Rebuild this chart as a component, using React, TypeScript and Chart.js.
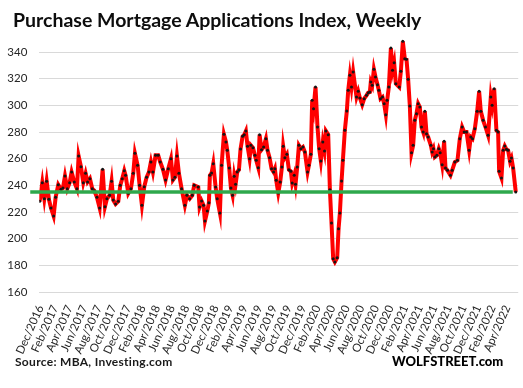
import React, { useEffect, useRef } from "react";
import { Chart, registerables } from "chart.js";

Chart.register(...registerables);

// Time in months since Dec 2016, weekly index values
const months = [
  -0.11, 0.25, 0.53, 0.85, 1.16, 1.44, 1.8, 2.08, 2.44, 2.81, 3.08, 3.36, 3.68, 4.0, 4.27, 4.64, 5.0, 5.23, 5.55, 5.87,
  6.19, 6.46, 6.78, 7.1, 7.38, 7.74, 8.11, 8.52, 8.84, 9.11, 9.48, 9.75, 9.98, 10.3, 10.67, 10.94, 11.21, 11.49, 11.67,
  12.04, 12.4, 12.72, 12.95, 13.32, 13.59, 13.91, 14.23, 14.55, 14.87, 15.14, 15.42, 15.78, 16.14, 16.42, 16.79, 17.15,
  17.52, 17.89, 18.16, 18.43, 18.71, 18.98, 19.35, 19.8, 20.08, 20.45, 20.81, 21.08,
  21.63, 21.81, 22.09, 22.36, 22.55, 22.87, 23.09, 23.23, 23.46, 23.69, 24.01, 24.23, 24.6, 24.83, 25.15, 25.43, 25.61,
  25.88, 26.11, 26.34, 26.56, 26.75, 26.98, 27.21, 27.43, 27.71, 27.94, 28.16, 28.39, 28.67, 28.85, 29.13, 29.4, 29.58,
  29.86, 30.04, 30.31, 30.59, 30.91, 31.13, 31.41, 31.68, 31.96, 32.14, 32.32, 32.6, 32.87, 33.1, 33.28, 33.51, 33.78,
  34.06, 34.33, 34.51, 34.79, 34.97, 35.2, 35.43, 35.7, 35.98, 36.25, 36.62, 36.8, 37.07, 37.25, 37.44, 37.71, 37.98,
  38.21, 38.44, 38.71, 38.94, 39.13, 39.45, 39.68, 39.9, 40.13, 40.36, 40.68, 40.87, 41.05, 41.28, 41.46, 41.73, 42.0,
  42.19, 42.42, 42.64, 42.87,
  43.33, 43.56, 43.79, 44.11, 44.38, 44.7, 44.93, 45.16, 45.29, 45.48, 45.71, 45.93, 46.21, 46.39, 46.62, 46.89, 47.12,
  47.35, 47.53, 47.76, 48.04, 48.27, 48.49, 48.72, 49.18, 49.41, 49.68, 49.95, 50.18, 50.41, 50.64, 50.87, 51.09, 51.32,
  51.55, 51.78, 52.01, 52.24, 52.47, 52.7, 52.93, 53.15, 53.52, 53.7, 53.88, 54.07, 54.34, 54.61, 54.8, 55.07, 55.34,
  55.53, 55.8, 56.21, 56.44, 56.81, 57.17, 57.49, 57.81, 58.09, 58.41, 58.77, 59.0, 59.23, 59.55, 59.87, 60.14, 60.37,
  60.69, 61.01, 61.37, 61.74, 61.92, 62.2, 62.51, 62.74, 62.88, 63.2, 63.43, 63.65, 63.88, 64.11, 64.38, 64.57, 64.8,
  65.16,
];

const values = [
  228, 242, 230, 243, 229.5, 223, 217, 231, 240.5, 237, 238, 247, 237.5, 242, 250, 242.5, 237.5, 262, 254, 242,
  249, 242.5, 245, 237.5, 236, 231, 223, 252, 224, 230, 232.5, 243, 229, 226, 228, 240, 245, 251, 247.5,
  234, 237.5, 249, 264, 255, 240, 225, 239, 246, 250, 257.5, 250, 262.5, 262.5, 257.5, 252, 244,
  252.5, 260, 244, 246, 262, 249, 237.5, 225, 232.5, 230, 232.5, 240,
  238.75, 223.75, 228.25, 225, 213.25, 220.75, 227, 247.5, 249.25, 256.25, 238.75, 230, 219.25, 255, 278.25, 272.5, 266.25,
  253, 238, 232.5, 246.75, 240.75, 250, 251.75, 267.25, 276.75, 278, 280.75, 269.25, 260, 270, 268.25, 262.5, 258.75,
  253.25, 278, 266.75, 268.75, 275, 266.25, 260.75, 252.5, 250, 252.5, 243.75, 234.25, 242.5, 253.75, 269.25, 260.75, 263.25,
  251.75, 250.5, 241.75, 247.5, 240.75, 253.75, 270, 267.5, 268.75, 265, 250, 255, 263.25, 303.75, 297.5, 313.75, 283.75,
  267.5, 258.25, 272.5, 265.75, 280.75, 278, 236.75, 211.75, 185, 182.5, 185.75, 207.5, 219.25, 243.25, 258.75, 281.25, 295.75,
  311.25, 322.5, 313.75, 325,
  306.25, 310.5, 305.5, 300.5, 305, 307.5, 309.5, 310, 317.5, 315, 327, 321.25, 315.5, 311.25, 305, 306.25, 301.25,
  293, 303.75, 313.75, 343, 326.25, 332, 316.25, 313.75, 325.5, 348, 335, 334.5, 319.5, 299.5, 264.5, 270, 288.75,
  293.75, 301.25, 298.75, 283.75, 280, 295.5, 278.75, 276.25, 270, 265, 267.5, 261.25, 262.5, 267.5, 264.5, 255.5, 273,
  253, 251.25, 247.5, 251.25, 257.5, 258.75, 275, 283.75, 280, 280, 266.25, 276.25, 275, 282.5, 295.5, 310.5, 295.5,
  288.75, 283.75, 277.5, 306.25, 300, 312.5, 281.25, 280, 250.5, 245.5, 266.25, 269.5, 267, 266.25, 258, 260.5, 253,
  235,
];

const tickLabels = [
  "Dec/2016", "Feb/2017", "Apr/2017", "Jun/2017", "Aug/2017", "Oct/2017", "Dec/2017", "Feb/2018", "Apr/2018",
  "Jun/2018", "Aug/2018", "Oct/2018", "Dec/2018", "Feb/2019", "Apr/2019", "Jun/2019", "Aug/2019", "Oct/2019",
  "Dec/2019", "Feb/2020", "Apr/2020", "Jun/2020", "Aug/2020", "Oct/2020", "Dec/2020", "Feb/2021", "Apr/2021",
  "Jun/2021", "Aug/2021", "Oct/2021", "Dec/2021", "Feb/2022", "Apr/2022",
];
// Tick positions in months since Dec 2016
const tickMonths = [0, 2, 4, 6, 8, 10, 12, 14, 16, 18, 20, 22, 24, 26, 28, 30, 32, 34, 36, 38, 40, 42, 44, 46, 48, 50, 52, 54, 56, 58, 60, 62, 64];

const yTicks = [160, 180, 200, 220, 240, 260, 280, 300, 320, 340];

const referenceLevel = 235;
const referenceSpan = [-1.4, 64.75];

export default function App() {
  const canvasRef = useRef<HTMLCanvasElement | null>(null);

  useEffect(() => {
    document.body.style.margin = "0";
    const canvas = canvasRef.current;
    if (!canvas) return;
    const chart = new Chart(canvas, {
      type: "line",
      data: {
        datasets: [
          {
            data: referenceSpan.map((x) => ({ x, y: referenceLevel })),
            borderColor: "#2EA84C",
            borderWidth: 3.5,
            pointRadius: 0,
            clip: false,
          } as any,
          {
            data: months.map((m, i) => ({ x: m, y: values[i] })),
            borderColor: "#FF0000",
            borderWidth: 4,
            pointRadius: 1.5,
            pointBackgroundColor: "#151515",
            pointBorderWidth: 0,
            tension: 0,
          },
        ],
      },
      options: {
        animation: false,
        responsive: false,
        events: [],
        layout: { padding: { top: 38.7, right: 4.5, left: 0, bottom: 0 } },
        plugins: { legend: { display: false }, tooltip: { enabled: false }, title: { display: false } },
        scales: {
          x: {
            type: "linear",
            min: -0.16,
            max: 65.5,
            grid: { display: false },
            border: { display: false },
            afterBuildTicks: (s: any) => {
              s.ticks = tickMonths.map((v) => ({ value: v }));
            },
            afterFit: (s: any) => {
              s.height = 96;
            },
            ticks: {
              autoSkip: false,
              minRotation: 66,
              maxRotation: 66,
              padding: 3,
              color: "#262626",
              font: { family: "Lato", size: 11.5 },
              callback: (_v: any, i: number) => tickLabels[i],
            },
          },
          y: {
            min: 160,
            max: 350,
            afterBuildTicks: (s: any) => {
              s.ticks = yTicks.map((v) => ({ value: v }));
            },
            afterFit: (s: any) => {
              s.width = 39.3;
            },
            grid: { color: "#D9D9D9", drawTicks: false, lineWidth: 1 },
            border: { display: false },
            ticks: { padding: 12, color: "#262626", font: { family: "Lato", size: 11.5 } },
          },
        },
      },
    });
    return () => chart.destroy();
  }, []);

  return (
    <div style={{ position: "relative", width: 523, height: 388, background: "#fff", overflow: "hidden" }}>
      <canvas ref={canvasRef} width={523} height={388} style={{ width: 523, height: 388, display: "block" }} />
      <div
        style={{
          position: "absolute", left: 13, top: 10.3, fontFamily: "Lato", fontWeight: 700, fontSize: 19.5,
          lineHeight: "19.5px", color: "#0d0d0d", whiteSpace: "nowrap",
        }}
      >
        Purchase Mortgage Applications Index, Weekly
      </div>
      <div
        style={{
          position: "absolute", left: 15, top: 355.5, fontFamily: "Lato", fontWeight: 700, fontSize: 12,
          lineHeight: "12px", letterSpacing: "0.3px", color: "#1a1a1a", whiteSpace: "nowrap",
        }}
      >
        Source: MBA, Investing.com
      </div>
      <div
        style={{
          position: "absolute", left: 392, top: 354.5, fontFamily: "Lato", fontWeight: 900, fontSize: 13,
          lineHeight: "13px", color: "#000", whiteSpace: "nowrap",
        }}
      >
        WOLFSTREET.com
      </div>
    </div>
  );
}
